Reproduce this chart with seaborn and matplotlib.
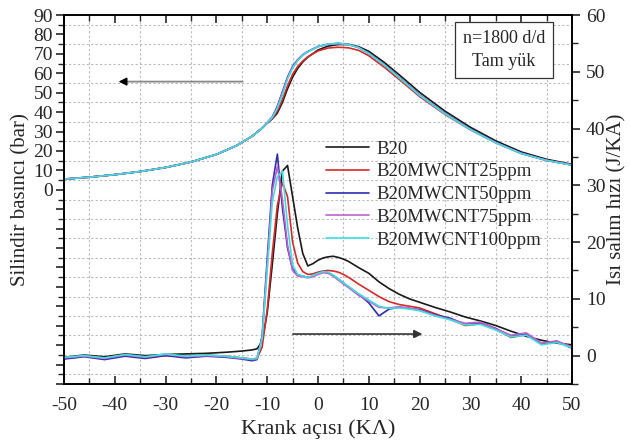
import numpy as np
import pandas as pd
import matplotlib
matplotlib.use("Agg")
import matplotlib.pyplot as plt
from matplotlib.ticker import MultipleLocator, FixedLocator, FuncFormatter
import seaborn as sns

# crank angles (KA) for the pressure curves
p_angle = [-50, -45, -40, -35, -30, -25, -20, -16, -13, -11,
           -10, -9, -8, -7, -6, -5, -4, -3, -2, 0,
           2, 4, 6, 8, 10, 13, 16, 20, 25, 30,
           35, 40, 45, 50]

p_b20 = [5.5, 6.5, 7.8, 9.4, 11.5, 14.3, 18.2, 22.8, 27.5, 31.8,
         34.3, 36.5, 39.5, 45.0, 52.0, 58.0, 62.5, 65.8, 68.3, 72.0,
         74.0, 74.8, 74.8, 73.7, 71.3, 65.7, 59.2, 50.2, 40.5, 32.2,
         25.2, 19.5, 15.7, 13.1]
p_25 = [5.5, 6.5, 7.8, 9.4, 11.5, 14.3, 18.2, 22.8, 27.5, 31.8,
        34.4, 36.8, 40.5, 46.5, 53.5, 59.5, 63.5, 66.3, 68.5, 71.5,
        73.0, 73.4, 73.1, 71.8, 69.0, 63.2, 56.8, 48.0, 38.8, 30.9,
        24.2, 18.7, 15.1, 12.8]
p_50 = [5.5, 6.5, 7.8, 9.4, 11.5, 14.3, 18.2, 22.8, 27.5, 31.8,
        34.6, 37.5, 43.0, 50.5, 58.0, 63.5, 67.0, 69.5, 71.2, 73.8,
        75.0, 75.4, 74.9, 73.3, 70.3, 64.5, 57.8, 48.8, 39.3, 31.2,
        24.4, 18.8, 15.2, 12.8]
p_75 = [5.5, 6.5, 7.8, 9.4, 11.5, 14.3, 18.2, 22.8, 27.5, 31.8,
        34.5, 37.3, 42.5, 50.0, 57.5, 63.0, 66.8, 69.3, 71.1, 73.7,
        74.9, 75.3, 74.8, 73.2, 70.2, 64.4, 57.7, 48.7, 39.2, 31.1,
        24.3, 18.8, 15.2, 12.8]
p_100 = [5.5, 6.5, 7.8, 9.4, 11.5, 14.3, 18.2, 22.8, 27.5, 31.8,
         34.5, 37.2, 42.0, 49.0, 57.0, 62.7, 66.5, 69.2, 71.0, 73.7,
         75.0, 75.4, 74.8, 73.2, 70.2, 64.3, 57.6, 48.6, 39.1, 31.0,
         24.2, 18.7, 15.1, 12.7]

# crank angles (KA) for the heat release curves
h_angle = [-50, -46, -42, -38, -34, -30, -26, -22, -18, -15,
           -13, -12, -11, -10, -9, -8, -7, -6, -5, -4,
           -3, -2, -1, 0, 1, 2, 3, 4, 5, 6,
           8, 10, 12, 14, 16, 18, 20, 23, 26, 29,
           32, 35, 38, 41, 44, 47, 50]

h_b20 = [-0.3, 0.1, -0.2, 0.3, 0.0, 0.2, 0.3, 0.4, 0.6, 0.8,
         1.0, 1.2, 2.5, 7.5, 16.0, 25.0, 32.5, 33.5, 28.0, 22.5,
         18.0, 15.8, 16.2, 16.8, 17.2, 17.4, 17.5, 17.3, 17.0, 16.6,
         15.5, 14.5, 13.0, 11.8, 10.8, 10.0, 9.4, 8.5, 7.7, 6.8,
         6.1, 5.3, 4.3, 3.4, 2.7, 2.2, 1.9]
h_25 = [-0.5, -0.1, -0.4, 0.1, -0.3, 0.0, -0.2, 0.1, -0.1, -0.4,
        -0.6, -0.5, 1.5, 8.0, 18.0, 26.5, 30.5, 28.0, 20.0, 16.3,
        14.8, 14.3, 14.4, 14.7, 14.9, 15.0, 14.9, 14.7, 14.3, 13.8,
        12.6, 11.5, 10.4, 9.5, 9.0, 8.7, 8.4, 7.4, 6.4, 5.3,
        5.6, 4.6, 3.2, 3.7, 2.1, 2.4, 1.6]
h_50 = [-0.6, -0.2, -0.7, -0.1, -0.5, 0.0, -0.4, -0.1, -0.3, -0.6,
        -0.9, -0.7, 3.5, 17.0, 30.0, 35.5, 26.0, 19.0, 15.2, 14.2,
        14.0, 13.8, 14.0, 14.4, 14.8, 14.6, 14.1, 13.5, 12.8, 12.1,
        10.8, 9.3, 7.0, 8.2, 8.5, 8.3, 8.1, 7.2, 6.6, 5.5,
        5.8, 4.8, 3.4, 3.9, 2.0, 2.5, 1.3]
h_75 = [-0.4, -0.1, -0.5, 0.1, -0.3, 0.2, -0.2, 0.0, -0.2, -0.5,
        -0.7, -0.6, 3.0, 16.0, 29.0, 33.3, 27.5, 19.5, 15.0, 14.0,
        13.9, 13.7, 13.9, 14.3, 14.6, 14.5, 14.0, 13.3, 12.6, 12.0,
        10.6, 9.6, 8.5, 8.4, 8.6, 8.4, 8.0, 7.1, 6.4, 5.7,
        5.9, 4.7, 3.6, 4.0, 2.2, 2.6, 1.5]
h_100 = [-0.3, 0.0, -0.4, 0.2, -0.2, 0.3, -0.1, 0.1, -0.1, -0.4,
         -0.6, -0.4, 3.0, 15.0, 27.0, 31.5, 32.5, 23.0, 16.0, 14.3,
         14.0, 13.8, 14.1, 14.5, 14.8, 14.7, 14.2, 13.5, 12.8, 12.2,
         10.9, 9.8, 8.7, 8.3, 8.4, 8.2, 7.9, 7.0, 6.3, 5.4,
         5.5, 4.5, 3.3, 3.6, 1.9, 2.3, 1.4]

fuels = ["B20", "B20MWCNT25ppm", "B20MWCNT50ppm", "B20MWCNT75ppm", "B20MWCNT100ppm"]
pressures = [p_b20, p_25, p_50, p_75, p_100]
heat_rates = [h_b20, h_25, h_50, h_75, h_100]
colors = ["#1a1a1a", "#d42a2a", "#2e2ea8", "#c060d0", "#40dede"]
palette = dict(zip(fuels, colors))

df_p = pd.concat([pd.DataFrame({"angle": p_angle, "value": v, "fuel": f})
                  for f, v in zip(fuels, pressures)], ignore_index=True)
df_h = pd.concat([pd.DataFrame({"angle": h_angle, "value": v, "fuel": f})
                  for f, v in zip(fuels, heat_rates)], ignore_index=True)

sns.set_theme(style="ticks")
plt.rcParams["font.family"] = ["Liberation Serif", "DejaVu Serif"]
plt.rcParams["axes.unicode_minus"] = False

fig = plt.figure(figsize=(6.3, 4.46), dpi=100)
ax = fig.add_axes([64 / 630, 62 / 446, 508 / 630, 369 / 446])
ax2 = ax.twinx()

sns.lineplot(data=df_p, x="angle", y="value", hue="fuel", palette=palette,
             ax=ax, legend=False, linewidth=1.2, errorbar=None, sort=True)
sns.lineplot(data=df_h, x="angle", y="value", hue="fuel", palette=palette,
             ax=ax2, linewidth=1.2, errorbar=None, sort=True)

# left axis: cylinder pressure (labels only 0..90, grid on the odd 5s)
ax.set_xlim(-50, 50)
ax.set_ylim(-100, 90)
ax.yaxis.set_major_locator(FixedLocator(np.arange(-100, 91, 10)))
ax.yaxis.set_minor_locator(FixedLocator(np.arange(-95, 90, 10)))
ax.yaxis.set_major_formatter(FuncFormatter(lambda v, _: f"{v:.0f}" if v >= 0 else ""))
ax.xaxis.set_major_locator(MultipleLocator(10))
ax.xaxis.set_minor_locator(FixedLocator(np.arange(-45, 50, 10)))
ax.grid(False)
ax2.grid(False)
ax.grid(True, which="minor", color="#bbbbbb", linestyle=(0, (2, 2)), linewidth=0.8)
ax.set_axisbelow(True)
ax.tick_params(axis="x", which="both", direction="in", top=True, labelsize=14, pad=9)
ax.tick_params(axis="x", which="major", length=6, width=1.2)
ax.tick_params(axis="x", which="minor", length=4, width=1.0)
ax.tick_params(axis="y", which="both", direction="out", labelsize=14, pad=2)
ax.tick_params(axis="y", which="major", length=6, width=1.2)
ax.tick_params(axis="y", which="minor", length=4, width=1.0)
ax.set_xlabel("Krank açısı (KΛ)", fontsize=16, labelpad=4)
ax.set_ylabel("Silindir basıncı (bar)", fontsize=15, labelpad=2)

# right axis: heat release rate
ax2.set_ylim(-5, 60)
ax2.yaxis.set_major_locator(MultipleLocator(10))
ax2.yaxis.set_minor_locator(MultipleLocator(5))
ax2.tick_params(axis="y", which="both", direction="out", labelsize=14, pad=4)
ax2.tick_params(axis="y", which="major", length=6, width=1.2)
ax2.tick_params(axis="y", which="minor", length=4, width=1.0)
ax2.set_ylabel("Isı salım hızı (J/KA)", fontsize=15, labelpad=1)
ax2.set_xlabel("")

for a in (ax, ax2):
    for s in a.spines.values():
        s.set_color("black")
        s.set_linewidth(1.2)

# arrows pointing to the axis each family belongs to
ax.annotate("", xy=(-38.5, 55.7), xytext=(-14.3, 55.7),
            arrowprops=dict(arrowstyle="-", color="#888888", lw=1.3))
ax.annotate("", xy=(-39.8, 55.7), xytext=(-37.5, 55.7),
            arrowprops=dict(arrowstyle="-|>", color="black", lw=1.0, mutation_scale=12))
ax2.annotate("", xy=(21.1, 3.8), xytext=(-5.5, 3.8),
             arrowprops=dict(arrowstyle="-|>", color="#333333", lw=1.2, mutation_scale=12))

ax.text(0.866, 0.905, "n=1800 d/d\nTam yük", transform=ax.transAxes,
        ha="center", va="center", fontsize=13, linespacing=1.45,
        bbox=dict(boxstyle="square,pad=0.45", facecolor="white", edgecolor="#333333", linewidth=0.9),
        zorder=10)

handles, labels = ax2.get_legend_handles_labels()
ax2.legend(handles, labels, loc="upper left", bbox_to_anchor=(0.5, 0.68),
           frameon=False, fontsize=13.5, handlelength=2.3, handletextpad=0.4,
           labelspacing=0.3, borderaxespad=0)

fig.savefig("out.png", dpi=100)
